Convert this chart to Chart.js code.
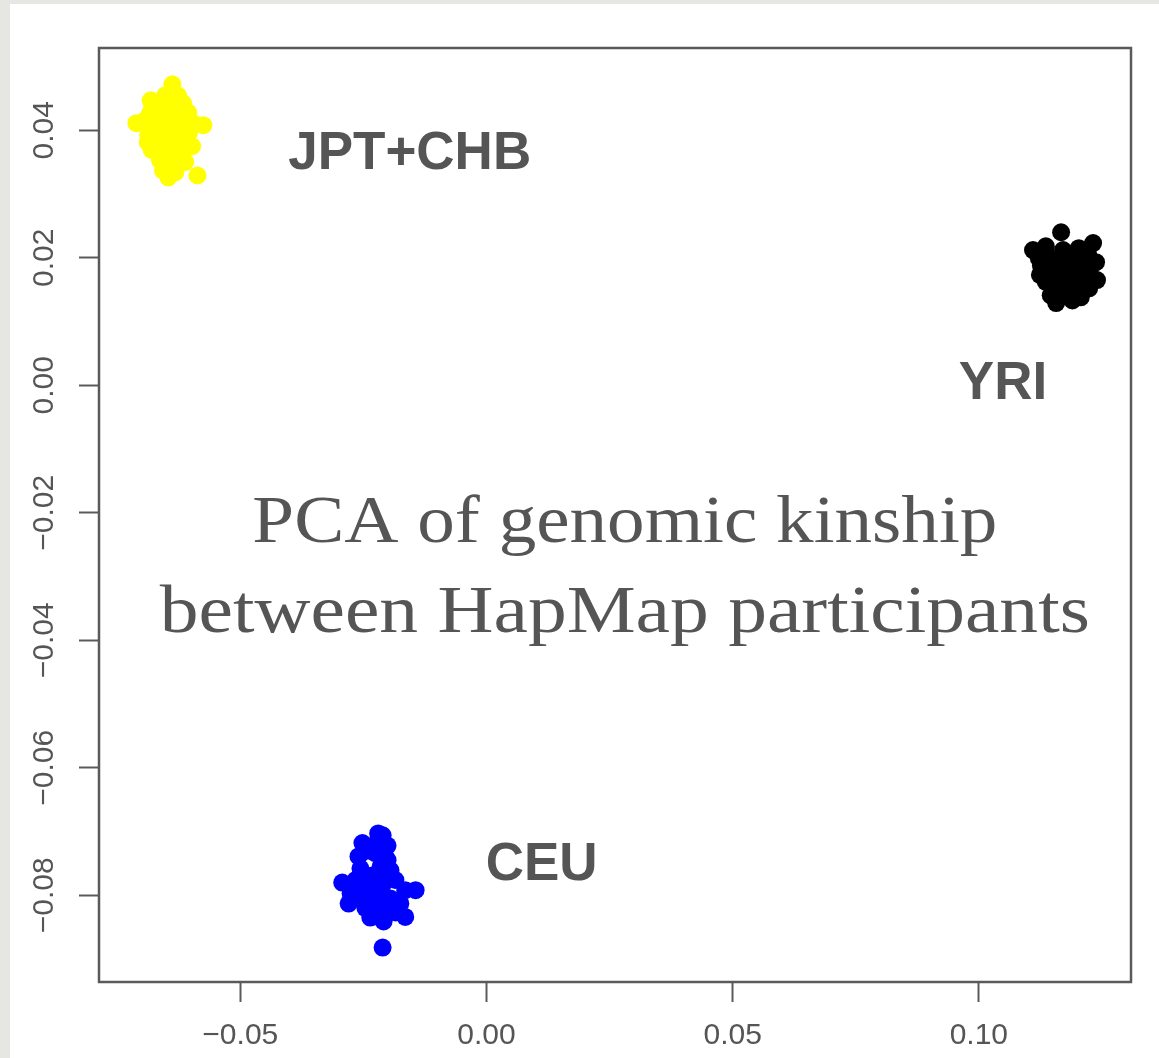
<!DOCTYPE html>
<html><head><meta charset="utf-8">
<script src="https://cdn.jsdelivr.net/npm/chart.js@4/dist/chart.umd.min.js"></script>
<style>
html,body{margin:0;padding:0;background:#e6e6e2;width:1159px;height:1058px;overflow:hidden;}
#wrap{position:absolute;left:10px;top:4px;width:1149px;height:1054px;background:#ffffff;}
canvas{display:block;}
</style></head><body>
<div id="wrap"><canvas id="c" width="1149" height="1054"></canvas></div>
<script>
// ---- data (PC1, PC2) ----
const jptX = [-0.0638,-0.0652,-0.0626,-0.0667,-0.0642,-0.0616,-0.0683,-0.0659,-0.0632,-0.0606,-0.0693,-0.0711,-0.0669,-0.0642,-0.0616,-0.0591,-0.0575,-0.0683,-0.0657,-0.0630,-0.0604,-0.0673,-0.0646,-0.0620,-0.0598,-0.0667,-0.0642,-0.0618,-0.0663,-0.0638,-0.0612,-0.0657,-0.0632,-0.0587,-0.0646,-0.0679,-0.0663,-0.0687,
              -0.0654,-0.0627,-0.0664,-0.0640,-0.0613,-0.0654,-0.0627,-0.0633,-0.0603,-0.0646,-0.0682,-0.0680,-0.0688];
const jptY = [0.0472,0.0455,0.0454,0.0439,0.0441,0.0442,0.0427,0.0427,0.0428,0.0428,0.0416,0.0411,0.0413,0.0413,0.0414,0.0409,0.0408,0.0398,0.0398,0.0398,0.0397,0.0384,0.0384,0.0384,0.0375,0.0369,0.0369,0.0365,0.0353,0.0353,0.0350,0.0337,0.0334,0.0329,0.0326,0.0435,0.0380,0.0392,
              0.0419,0.0405,0.0405,0.0392,0.0403,0.0361,0.0376,0.0345,0.0416,0.0431,0.0447,0.0369,0.0381];
const yriX = [0.1167,0.1110,0.1136,0.1232,0.1203,0.1171,0.1146,0.1177,0.1207,0.1238,0.1126,0.1157,0.1187,0.1217,0.1240,0.1136,0.1167,0.1197,0.1224,0.1146,0.1177,0.1207,0.1157,0.1187,0.1122,0.1191,0.1217,0.1171,
              0.1160,0.1195,0.1140,0.1201,0.1225,0.1161,0.1190,0.1222,0.1124];
const yriY = [0.0240,0.0212,0.0218,0.0223,0.0215,0.0212,0.0199,0.0193,0.0196,0.0193,0.0188,0.0180,0.0177,0.0177,0.0165,0.0162,0.0158,0.0157,0.0152,0.0141,0.0140,0.0138,0.0129,0.0149,0.0199,0.0204,0.0162,0.0168,
              0.0196,0.0188,0.0173,0.0168,0.0180,0.0146,0.0133,0.0204,0.0173];
const ceuX = [-0.0220,-0.0252,-0.0230,-0.0201,-0.0260,-0.0205,-0.0226,-0.0256,-0.0215,-0.0232,-0.0195,-0.0266,-0.0293,-0.0240,-0.0211,-0.0185,-0.0165,-0.0144,-0.0276,-0.0252,-0.0224,-0.0195,-0.0175,-0.0280,-0.0246,-0.0215,-0.0185,-0.0165,-0.0209,-0.0236,-0.0211,-0.0236,
              -0.0207,-0.0233,-0.0201,-0.0262,-0.0201,-0.0243,-0.0211];
const ceuY = [-0.0703,-0.0718,-0.0722,-0.0722,-0.0739,-0.0740,-0.0734,-0.0758,-0.0755,-0.0769,-0.0761,-0.0776,-0.0780,-0.0784,-0.0784,-0.0776,-0.0792,-0.0792,-0.0797,-0.0803,-0.0803,-0.0805,-0.0813,-0.0813,-0.0820,-0.0824,-0.0827,-0.0834,-0.0841,-0.0835,-0.0882,-0.0792,
              -0.0769,-0.0813,-0.0816,-0.0792,-0.0745,-0.0730,-0.0706];

const groupNames = ['JPT+CHB', 'YRI', 'CEU'];
const titleLines = ['PCA of genomic kinship', 'between HapMap participants'];

const xTicks = [-0.05, 0.00, 0.05, 0.10];
const xTickLabels = ['\u22120.05', '0.00', '0.05', '0.10'];
const yTicks = [-0.08, -0.06, -0.04, -0.02, 0.00, 0.02, 0.04];
const yTickLabels = ['\u22120.08', '\u22120.06', '\u22120.04', '\u22120.02', '0.00', '0.02', '0.04'];
const xRange = [-0.0787, 0.1309];
const yRange = [-0.0936, 0.0529];

const toPts = (xs, ys) => xs.map((x, i) => ({x: x, y: ys[i]}));

const INK = '#555555';
const AXIS = '#5a5a5a';

const framePlugin = {
  id: 'frame',
  afterDatasetsDraw(chart) {
    const {ctx, chartArea: a} = chart;
    ctx.save();
    ctx.strokeStyle = AXIS;
    ctx.lineWidth = 2.5;
    ctx.strokeRect(a.left, a.top, a.right - a.left, a.bottom - a.top);
    ctx.restore();
  }
};

const textPlugin = {
  id: 'annot',
  afterDatasetsDraw(chart, args, opts) {
    const {ctx} = chart;
    const xs = chart.scales.x, ys = chart.scales.y;
    ctx.save();
    ctx.fillStyle = INK;
    ctx.textAlign = 'center';
    ctx.textBaseline = 'middle';
    ctx.font = 'bold 53px "Liberation Sans", Arial, sans-serif';
    opts.labels.forEach((l, i) => {
      ctx.fillText(groupNames[i], xs.getPixelForValue(l.x), ys.getPixelForValue(l.y));
    });
    // title
    ctx.font = '68px "Liberation Serif", "Times New Roman", serif';
    ctx.textBaseline = 'alphabetic';
    const cx = xs.getPixelForValue(opts.title.x);
    titleLines.forEach((t, i) => {
      const sx = opts.title.widths[i] / ctx.measureText(t).width;
      ctx.save();
      ctx.translate(cx, ys.getPixelForValue(opts.title.baselines[i]));
      ctx.scale(sx, 1);
      ctx.fillText(t, 0, 0);
      ctx.restore();
    });
    ctx.restore();
  }
};

new Chart(document.getElementById('c'), {
  type: 'scatter',
  data: {
    datasets: [
      {label: groupNames[0], data: toPts(jptX, jptY), backgroundColor: '#ffff00'},
      {label: groupNames[1], data: toPts(yriX, yriY), backgroundColor: '#000000'},
      {label: groupNames[2], data: toPts(ceuX, ceuY), backgroundColor: '#0000ff'}
    ]
  },
  options: {
    responsive: false,
    devicePixelRatio: 1,
    animation: false,
    layout: {padding: {top: 44, right: 28, left: 0, bottom: 0}},
    elements: {point: {radius: 9, borderWidth: 0, hoverRadius: 9}},
    plugins: {
      legend: {display: false},
      tooltip: {enabled: false},
      annot: {
        labels: [{x: -0.0156, y: 0.0362}, {x: 0.1049, y: 0.0002}, {x: 0.0112, y: -0.0753}],
        title: {x: 0.0281, baselines: [-0.0246, -0.0387], widths: [745, 930]}
      }
    },
    scales: {
      x: {
        type: 'linear', position: 'bottom',
        min: xRange[0], max: xRange[1],
        afterBuildTicks: s => { s.ticks = xTicks.map(v => ({value: v})); },
        afterFit: s => { s.height = 76; s.paddingLeft = 0; s.paddingRight = 0; },
        border: {display: false},
        grid: {drawOnChartArea: false, drawTicks: true, tickLength: 20, tickWidth: 2, tickColor: AXIS},
        ticks: {
          autoSkip: false, maxRotation: 0, minRotation: 0, padding: 16, color: INK,
          font: {family: '"Liberation Sans", Arial, sans-serif', size: 30},
          callback: v => xTickLabels[xTicks.indexOf(v)]
        }
      },
      y: {
        type: 'linear', position: 'left',
        min: yRange[0], max: yRange[1],
        afterBuildTicks: s => { s.ticks = yTicks.map(v => ({value: v})); },
        afterFit: s => { s.width = 89; s.paddingTop = 0; s.paddingBottom = 0; },
        border: {display: false},
        grid: {drawOnChartArea: false, drawTicks: true, tickLength: 20, tickWidth: 2, tickColor: AXIS},
        ticks: {
          autoSkip: false, minRotation: 90, maxRotation: 90, crossAlign: 'center', padding: -4, color: INK,
          font: {family: '"Liberation Sans", Arial, sans-serif', size: 30},
          callback: v => yTickLabels[yTicks.indexOf(v)]
        }
      }
    }
  },
  plugins: [framePlugin, textPlugin]
});
</script>
</body></html>
